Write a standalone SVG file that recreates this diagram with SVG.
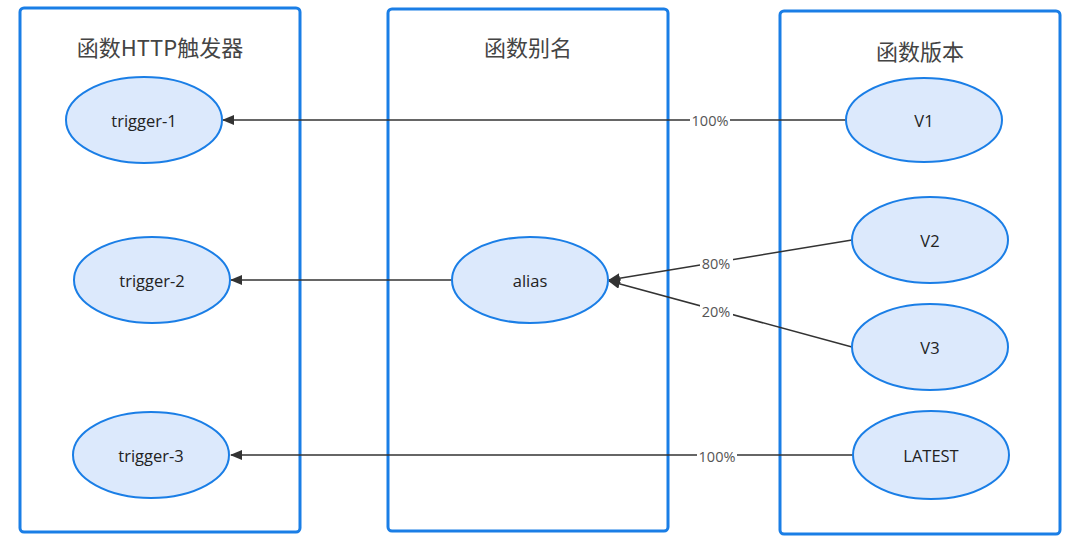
<svg xmlns="http://www.w3.org/2000/svg" width="1080" height="547" viewBox="0 0 1080 547">
<style>
.box{fill:#fff;stroke:#1a7ee6;stroke-width:3}
.title{font-family:"Noto Sans CJK SC","Liberation Sans",sans-serif;font-size:22px;fill:#444;text-anchor:middle}
.node ellipse{fill:#dce9fc;stroke:#1a7ee6;stroke-width:2}
.node text{font-family:"Open Sans","Noto Sans CJK SC",sans-serif;font-size:16.5px;fill:#222;text-anchor:middle;dominant-baseline:central}
.edge{stroke:#333;stroke-width:1.5;fill:none;marker-end:url(#arr)}
.lbl{font-family:"Open Sans",sans-serif;font-size:14.5px;fill:#555;text-anchor:middle;dominant-baseline:central}
.lblbg{fill:#fff}
</style>
<defs>
<marker id="arr" viewBox="0 0 12 10" refX="11" refY="5" markerWidth="12" markerHeight="10" markerUnits="userSpaceOnUse" orient="auto">
<path d="M0,0 L12,5 L0,10 Z" fill="#333"/>
</marker>
</defs>
<rect width="1080" height="547" fill="#fff"/>
<g id="container-triggers">
<rect class="box" x="20" y="8" width="280" height="524" rx="4"/>
<text class="title" x="160" y="56">函数HTTP触发器</text>
</g>
<g id="container-alias">
<rect class="box" x="388" y="9" width="280" height="522" rx="4"/>
<text class="title" x="528" y="56">函数别名</text>
</g>
<g id="container-versions">
<rect class="box" x="780" y="11" width="280" height="523" rx="4"/>
<text class="title" x="920" y="60">函数版本</text>
</g>
<g id="connectors">
<line class="edge" x1="846" y1="120" x2="223" y2="120"/>
<line class="edge" x1="452" y1="280" x2="231" y2="280"/>
<line class="edge" x1="852" y1="240" x2="609" y2="280"/>
<line class="edge" x1="852" y1="347" x2="609" y2="281"/>
<line class="edge" x1="853" y1="455" x2="231" y2="455"/>
<rect class="lblbg" x="690" y="112" width="40" height="16"/>
<text class="lbl" x="710" y="120">100%</text>
<rect class="lblbg" x="700" y="255" width="33" height="16"/>
<text class="lbl" x="716" y="263">80%</text>
<rect class="lblbg" x="700" y="303" width="33" height="16"/>
<text class="lbl" x="716" y="311">20%</text>
<rect class="lblbg" x="697" y="448" width="40" height="16"/>
<text class="lbl" x="717" y="456">100%</text>
</g>
<g id="trigger-1" class="node"><ellipse cx="144" cy="120" rx="78" ry="43"/><text x="144" y="120">trigger-1</text></g>
<g id="trigger-2" class="node"><ellipse cx="152" cy="280" rx="78" ry="43"/><text x="152" y="280">trigger-2</text></g>
<g id="trigger-3" class="node"><ellipse cx="151" cy="455" rx="78" ry="43"/><text x="151" y="455">trigger-3</text></g>
<g id="alias" class="node"><ellipse cx="530" cy="280" rx="78" ry="43"/><text x="530" y="280">alias</text></g>
<g id="V1" class="node"><ellipse cx="924" cy="120" rx="78" ry="42"/><text x="924" y="120">V1</text></g>
<g id="V2" class="node"><ellipse cx="930" cy="240" rx="78" ry="43"/><text x="930" y="240">V2</text></g>
<g id="V3" class="node"><ellipse cx="930" cy="347" rx="78" ry="43"/><text x="930" y="347">V3</text></g>
<g id="LATEST" class="node"><ellipse cx="931" cy="455" rx="78" ry="44"/><text x="931" y="455">LATEST</text></g>
</svg>
